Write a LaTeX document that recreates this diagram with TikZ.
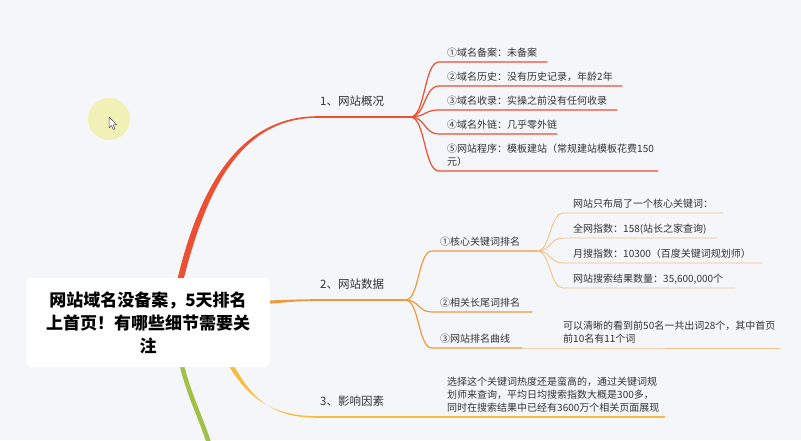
\documentclass[tikz,border=0pt]{standalone}
\usepackage{fontspec}
\setmainfont{Noto Sans CJK SC}
\usetikzlibrary{calc}
\pgfdeclarelayer{bgl}
\pgfdeclarelayer{background}
\pgfsetlayers{bgl,background,main}
\definecolor{bg}{HTML}{F4F6FA}
\definecolor{redc}{HTML}{EB5033}
\definecolor{orgc}{HTML}{EE9A3C}
\definecolor{orgl}{HTML}{F4C088}
\definecolor{yelc}{HTML}{F6BE3F}
\definecolor{grnc}{HTML}{A2BF48}
\definecolor{txt}{HTML}{333333}
\definecolor{curs}{HTML}{F1F0B6}
\begin{document}
\begin{tikzpicture}[x=1pt,y=-1pt,
  topic/.style={anchor=south west, inner ysep=9pt, inner xsep=2pt, align=left,
    text height=9pt, text depth=2pt, font=\fontsize{11.5}{14}\selectfont, text=txt},
  leaf/.style={anchor=south west, inner ysep=3pt, inner xsep=8pt, align=left,
    text height=8pt, text depth=2pt, font=\fontsize{10}{13}\selectfont, text=txt},
  leafw/.style={leaf, inner xsep=10pt},
  rootbox/.style={fill=white, rounded corners=5pt, minimum width=244pt, minimum height=89pt,
    align=center, font=\fontsize{17}{23}\selectfont\bfseries, text=black, inner sep=0pt},
  lv1/.style={line width=1.6pt},
  lv2/.style={line width=1.2pt},
  lv3/.style={line width=0.9pt, orgl}
]
\useasboundingbox (0,0) rectangle (801,440);
\begin{pgfonlayer}{bgl}
\fill[bg] (0,0) rectangle (801,440);
\end{pgfonlayer}

% cursor highlight
\fill[curs] (109,119) circle (21);
\draw[fill=white, draw=black!70, line width=0.5pt, line join=round] (109,117) -- ++(0,11) -- ++(2.5,-2.5) -- ++(1.8,4) -- ++(1.6,-0.7) -- ++(-1.8,-4) -- ++(3.5,0) -- cycle;

% root
\node[rootbox] (C) at (148,322.5) {网站域名没备案，5天排名\\上首页！有哪些细节需要关\\注};

% branch 1
\node[topic, text width=88pt] (L1) at (318,117) {1、网站概况};
\node[leaf, text width=92pt] (c1) at (439,62) {①域名备案：未备案};
\node[leaf, text width=167pt] (c2) at (439,86) {②域名历史：没有历史记录，年龄2年};
\node[leaf, text width=162pt] (c3) at (439,110) {③域名收录：实操之前没有任何收录};
\node[leaf, text width=102pt] (c4) at (439,134) {④域名外链：几乎零外链};
\node[leaf, text width=203pt, text depth=15pt] (c5) at (439,171) {⑤网站程序：模板建站（常规建站模板花费150\\元）};

% branch 2
\node[topic, text width=83pt] (L2) at (318,300) {2、网站数据};
\node[leaf, text width=89pt] (K1) at (432,251) {①核心关键词排名};
\node[leaf, text width=84pt] (K2) at (432,312) {②相关长尾词排名};
\node[leaf, text width=74pt] (K3) at (432,348) {③网站排名曲线};
\node[leafw, text width=140pt] (g1) at (563,213) {网站只布局了一个核心关键词：};
\node[leafw, text width=134pt] (g2) at (563,238) {全网指数：158(站长之家查询)};
\node[leafw, text width=179pt] (g3) at (563,263) {月搜指数：10300（百度关键词规划师）};
\node[leafw, text width=152pt] (g4) at (563,288) {网站搜索结果数量：35,600,000个};
\node[leafw, text width=207pt, text depth=15pt] (P) at (553,348) {可以清晰的看到前50名一共出词28个，其中首页\\前10名有11个词};

% branch 3
\node[topic, text width=118pt] (L3) at (318,417) {3、影响因素};
\node[leaf, inner xsep=7pt, text width=211pt, text depth=28pt] (Y1) at (440,417) {选择这个关键词热度还是蛮高的，通过关键词规\\划师来查询，平均日均搜索指数大概是300多，\\同时在搜索结果中已经有3600万个相关页面展现};

\coordinate (G) at (211,450);

% thick main branches (under the root box)
\begin{pgfonlayer}{background}
\fill[redc] ($(C.north)+(27,12)$) .. controls +(22,-100) and +(-80,0) .. ($(L1.south west)+(0,-0.8)$)
  -- ($(L1.south west)+(0,0.8)$) .. controls +(-78,0) and +(24,-100) .. ($(C.north)+(33,12)$) -- cycle;
\fill[orgc] ($(C.east)+(-30,-21.5)$) .. controls +(30,0) and +(-30,0) .. ($(L2.south west)+(0,-0.8)$)
  -- ($(L2.south west)+(0,0.8)$) .. controls +(-30,0) and +(30,0) .. ($(C.east)+(-30,-17.5)$) -- cycle;
\fill[yelc] ($(C.south)+(72,-17)$) .. controls +(23,45) and +(-50,0) .. ($(L3.south west)+(0,-0.8)$)
  -- ($(L3.south west)+(0,0.8)$) .. controls +(-52,0) and +(23,45) .. ($(C.south)+(77,-18)$) -- cycle;
\draw[grnc, line width=4.5pt] ($(C.south)+(30,-20)$) .. controls +(8,45) and +(-10,-35) .. (G);
\end{pgfonlayer}

% branch 1 connectors
\draw[redc, lv1] (L1.south west) -- (L1.south east);
\foreach \n in {c1,c2,c3,c4,c5}
  \draw[redc, lv2] (L1.south east) .. controls +(15,0) and +(-15,0) .. (\n.south west) -- (\n.south east);

% branch 2 connectors
\draw[orgc, lv1] (L2.south west) -- (L2.south east);
\foreach \n in {K1,K2,K3}
  \draw[orgc, lv2] (L2.south east) .. controls +(14,0) and +(-14,0) .. (\n.south west) -- (\n.south east);
\foreach \n in {g1,g2,g3,g4}
  \draw[lv3] (K1.south east) .. controls +(13,0) and +(-13,0) .. (\n.south west) -- (\n.south east);
\draw[lv3] (K3.south east) -- (P.south west) -- (P.south east);

% branch 3 connectors
\draw[yelc, lv1] (L3.south west) -- (L3.south east) -- (Y1.south west) -- (Y1.south east);
\end{tikzpicture}
\end{document}
